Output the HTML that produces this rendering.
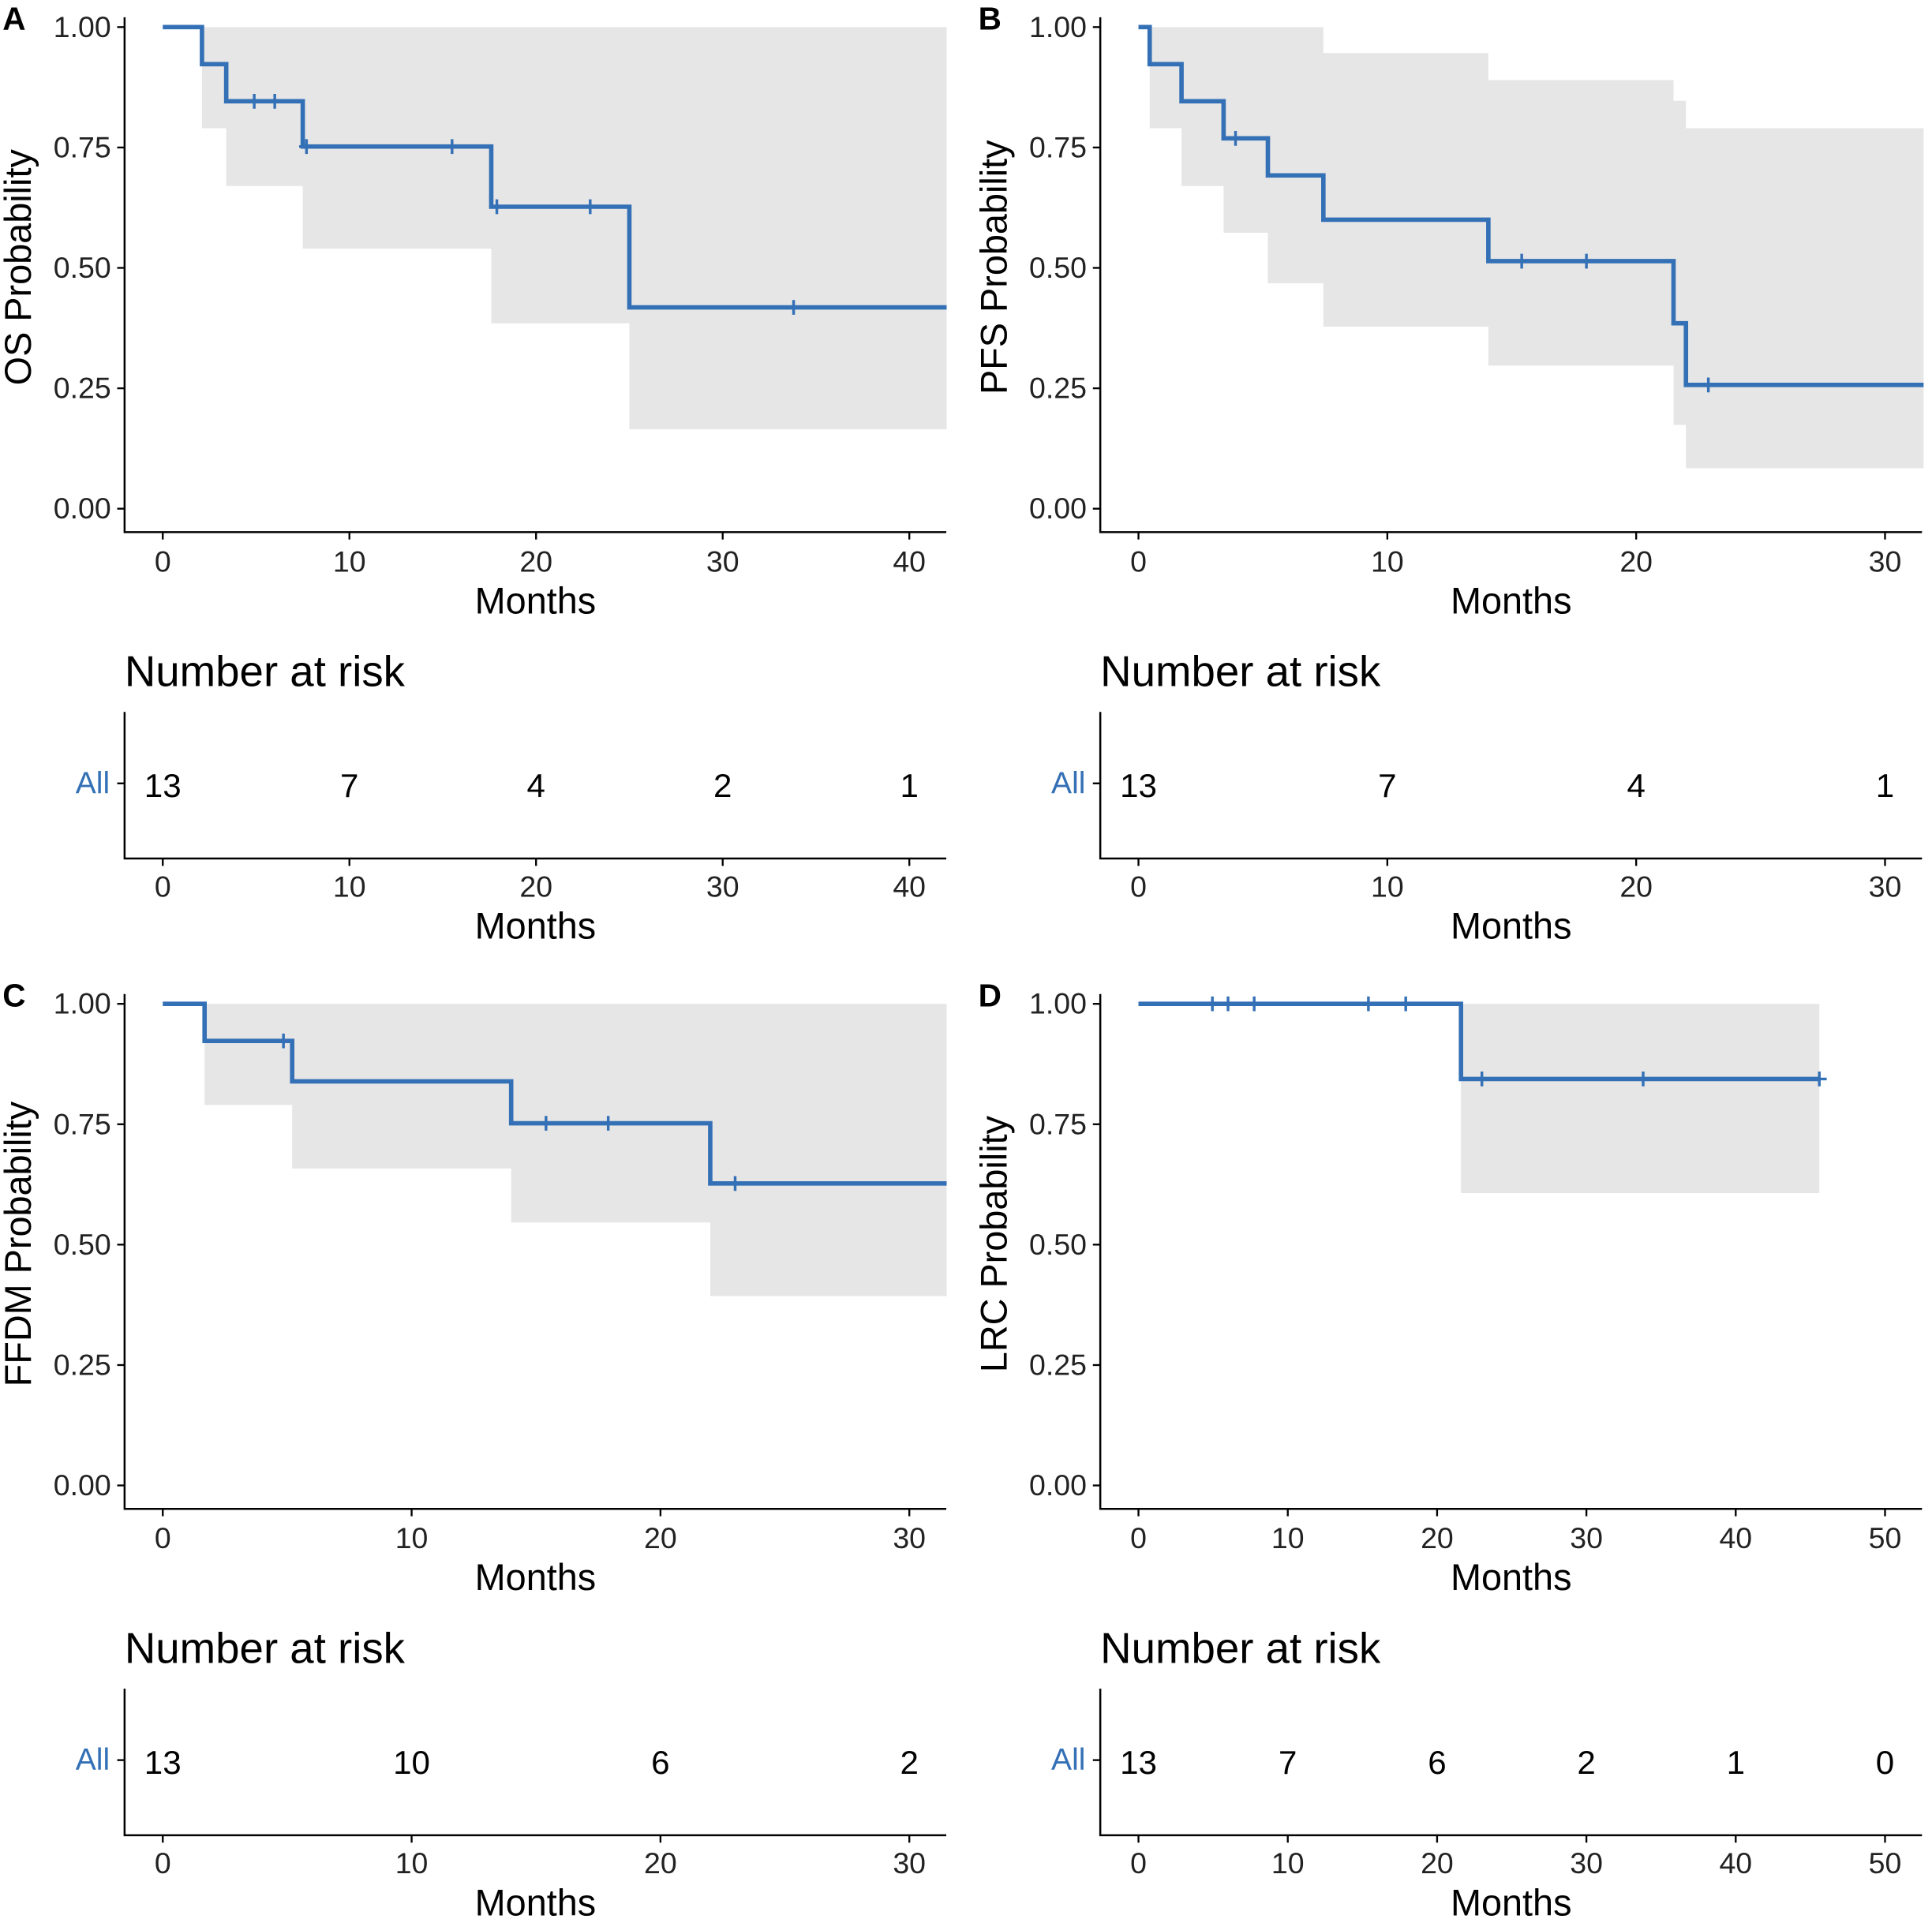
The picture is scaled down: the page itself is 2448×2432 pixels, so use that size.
<!DOCTYPE html>
<html><head><meta charset="utf-8"><style>
html,body{margin:0;padding:0;background:#fff}
svg{display:block;font-family:"Liberation Sans",Arial,sans-serif}
</style></head><body>
<svg id="fig" width="2448" height="2432" viewBox="0 0 1568 1558" xmlns="http://www.w3.org/2000/svg"></svg>
<script>
// Panel A - OS
const aTimes=[0,2.1,3.4,7.5,17.6,25.0];
const aSurv=[1,0.923,0.846,0.752,0.627,0.418];
const aLower=[1,0.79,0.67,0.54,0.385,0.165];
const aUpper=[1,1,1,1,1,1];
const aCensor=[4.9,6.0,7.7,15.5,17.9,22.9,33.8];
const aRiskTimes=[0,10,20,30,40];
const aRisk=[13,7,4,2,1];
const aXTicks=[0,10,20,30,40];
// Panel B - PFS
const bTimes=[0,0.45,1.73,3.42,5.2,7.43,14.06,21.5,22.0];
const bSurv=[1,0.923,0.846,0.769,0.692,0.600,0.514,0.385,0.257];
const bLower=[1,0.79,0.67,0.573,0.468,0.378,0.297,0.174,0.084];
const bUpper=[1,1,1,1,1,0.946,0.89,0.847,0.79];
const bCensor=[3.9,15.4,18.0,22.9];
const bRiskTimes=[0,10,20,30];
const bRisk=[13,7,4,1];
const bXTicks=[0,10,20,30];
// Panel C - FFDM
const cTimes=[0,1.68,5.2,14.0,22.0];
const cSurv=[1,0.923,0.839,0.752,0.627];
const cLower=[1,0.79,0.658,0.546,0.393];
const cUpper=[1,1,1,1,1];
const cCensor=[4.85,15.4,17.9,23.0];
const cRiskTimes=[0,10,20,30];
const cRisk=[13,10,6,2];
const cXTicks=[0,10,20,30];
// Panel D - LRC
const dTimes=[0,21.6];
const dSurv=[1,0.844];
const dLower=[1,0.607];
const dUpper=[1,1];
const dCensor=[4.95,6.0,7.75,15.4,17.9,23.0,33.8,45.6];
const dRiskTimes=[0,10,20,30,40,50];
const dRisk=[13,7,6,2,1,0];
const dXTicks=[0,10,20,30,40,50];
const yTicks=[0,0.25,0.5,0.75,1];
const yTickLabels=["0.00","0.25","0.50","0.75","1.00"];

const NS="http://www.w3.org/2000/svg";
const svg=document.getElementById('fig');
function mk(tag,attrs,parent,text){const e=document.createElementNS(NS,tag);for(const k in attrs)e.setAttribute(k,attrs[k]);if(text!==undefined)e.textContent=text;(parent||svg).appendChild(e);return e;}
const BLUE="#3470b6";

function panel(cfg){
  const g=mk('g',{});
  
  
  const ox=cfg.ox, oy=cfg.oy;
  const x0=132+ox, ppm=cfg.ppm, yTop=22+oy, yBot=413+oy;
  const X=t=>x0+t*ppm;
  const Y=v=>yBot-(yBot-yTop)*v;
  const axL=101+ox, axR=768+ox, axB=432+oy;
  const n=cfg.times.length;
  const endT=cfg.end;
  let up='',lo='';
  for(let i=0;i<n;i++){
    const t1=cfg.times[i], t2=i<n-1?cfg.times[i+1]:endT;
    up+=(i===0?'M':'L')+X(t1)+','+Y(cfg.upper[i])+'L'+X(t2)+','+Y(cfg.upper[i]);
  }
  for(let i=n-1;i>=0;i--){
    const t1=cfg.times[i], t2=i<n-1?cfg.times[i+1]:endT;
    lo+='L'+X(t2)+','+Y(cfg.lower[i])+'L'+X(t1)+','+Y(cfg.lower[i]);
  }
  const band=mk('path',{d:up+lo+'Z',fill:'#e6e6e6',stroke:'none'},g);
  
  
  let sp='';
  for(let i=0;i<n;i++){
    const t1=cfg.times[i], t2=i<n-1?cfg.times[i+1]:endT;
    sp+=(i===0?'M'+X(t1)+','+Y(cfg.surv[i]):'L'+X(t1)+','+Y(cfg.surv[i]))+'L'+X(t2)+','+Y(cfg.surv[i]);
  }
  const line=mk('path',{d:sp,fill:'none',stroke:BLUE,'stroke-width':3.6},g);
  
  
  cfg.censor.forEach(t=>{
    let s=cfg.surv[0];
    for(let i=0;i<n;i++) if(cfg.times[i]<=t) s=cfg.surv[i];
    const m=mk('path',{d:'M'+(X(t)-6)+','+Y(s)+'h12M'+X(t)+','+(Y(s)-6)+'v12',stroke:BLUE,'stroke-width':2.2},g);
    
    
  });
  const ax=mk('path',{d:'M'+axL+','+(yTop-8)+'V'+axB+'H'+axR,fill:'none',stroke:'#000','stroke-width':1.6},g);
  
  
  yTicks.forEach((v,i)=>{
    mk('line',{x1:axL-6,x2:axL,y1:Y(v),y2:Y(v),stroke:'#000','stroke-width':1.5},g);
    const tl=mk('text',{x:axL-11,y:Y(v)+8,'text-anchor':'end','font-size':24,fill:'#222'},g,yTickLabels[i]);
    
    
  });
  cfg.xticks.forEach(t=>{
    mk('line',{x1:X(t),x2:X(t),y1:axB,y2:axB+6,stroke:'#000','stroke-width':1.5},g);
    const tl=mk('text',{x:X(t),y:axB+32,'text-anchor':'middle','font-size':24,fill:'#222'},g,String(t));
    
    
  });
  const midX=(axL+axR)/2;
  const xt=mk('text',{x:midX,y:498+oy,'text-anchor':'middle','font-size':30,fill:'#000'},g,'Months');
  
  
  const yt=mk('text',{x:0,y:0,'text-anchor':'middle','font-size':30,fill:'#000',transform:'translate('+(25+ox)+','+(217+oy)+') rotate(-90)'},g,cfg.ytitle);
  
  
  const pl=mk('text',{x:2+ox,y:24+oy,'font-size':26,'font-weight':'bold',fill:'#000'},g,cfg.letter);
  
  
  const rt=mk('text',{x:101+ox,y:557+oy,'font-size':35,fill:'#000'},g,'Number at risk');
  
  
  const rTop=578+oy, rBot=697+oy;
  mk('path',{d:'M'+axL+','+rTop+'V'+rBot+'H'+axR,fill:'none',stroke:'#000','stroke-width':1.6},g);
  mk('line',{x1:axL-6,x2:axL,y1:636+oy,y2:636+oy,stroke:'#000','stroke-width':1.5},g);
  const al=mk('text',{x:89+ox,y:644+oy,'text-anchor':'end','font-size':25,fill:BLUE},g,'All');
  
  
  cfg.riskTimes.forEach((t,i)=>{
    const r=mk('text',{x:X(t),y:647+oy,'text-anchor':'middle','font-size':27,fill:'#000'},g,String(cfg.risk[i]));
    
    
  });
  cfg.xticks.forEach(t=>{
    mk('line',{x1:X(t),x2:X(t),y1:rBot,y2:rBot+6,stroke:'#000','stroke-width':1.5},g);
    const tl=mk('text',{x:X(t),y:rBot+31,'text-anchor':'middle','font-size':24,fill:'#222'},g,String(t));
    
    
  });
  const xt2=mk('text',{x:midX,y:762+oy,'text-anchor':'middle','font-size':30,fill:'#000'},g,'Months');
  
  
}
panel({letter:'A',ox:0,oy:0,ppm:15.15,end:42,times:aTimes,surv:aSurv,lower:aLower,upper:aUpper,censor:aCensor,riskTimes:aRiskTimes,risk:aRisk,xticks:aXTicks,ytitle:'OS Probability'});
panel({letter:'B',ox:792,oy:0,ppm:20.2,end:31.55,times:bTimes,surv:bSurv,lower:bLower,upper:bUpper,censor:bCensor,riskTimes:bRiskTimes,risk:bRisk,xticks:bXTicks,ytitle:'PFS Probability'});
panel({letter:'C',ox:0,oy:793,ppm:20.2,end:31.5,times:cTimes,surv:cSurv,lower:cLower,upper:cUpper,censor:cCensor,riskTimes:cRiskTimes,risk:cRisk,xticks:cXTicks,ytitle:'FFDM Probability'});
panel({letter:'D',ox:792,oy:793,ppm:12.12,end:45.6,times:dTimes,surv:dSurv,lower:dLower,upper:dUpper,censor:dCensor,riskTimes:dRiskTimes,risk:dRisk,xticks:dXTicks,ytitle:'LRC Probability'});
</script>
</body></html>
